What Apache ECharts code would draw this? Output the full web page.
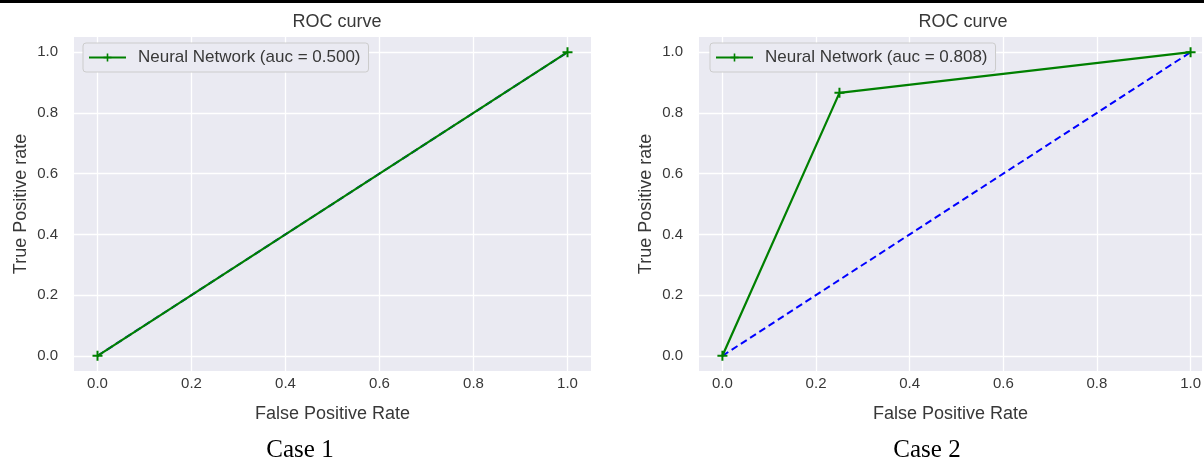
<!DOCTYPE html>
<html>
<head>
<meta charset="utf-8">
<script src="https://cdn.jsdelivr.net/npm/echarts@6/dist/echarts.min.js"></script>
<style>html,body{margin:0;padding:0;background:#fff}#c{width:1204px;height:461px}</style>
</head>
<body>
<div id="c"></div>
<script>
const tickValues = [0, 0.2, 0.4, 0.6, 0.8, 1.0];
const case1Roc = [[0, 0], [1, 1]];
const case2Roc = [[0, 0], [0.25, 0.866], [1, 1]];
const chanceLine = [[0, 0], [1, 1]];
const case1Name = 'Neural Network (auc = 0.500)';
const case2Name = 'Neural Network (auc = 0.808)';
const caseLabels = ['Case 1', 'Case 2'];

const txt = '#383838';
const font = 'Liberation Sans, Arial, sans-serif';
const plus = 'path://M4,0h2v4h4v2h-4v4h-2v-4h-4v-2h4z';

function xAx(gi, max) {
  return {
    type: 'value', gridIndex: gi, min: -0.05, max: max,
    name: 'False Positive Rate', nameLocation: 'middle', nameGap: 34,
    nameTextStyle: {color: txt, fontSize: 18, fontFamily: font},
    axisLine: {show: false},
    axisTick: {show: false, customValues: tickValues},
    axisLabel: {customValues: tickValues, color: txt, fontSize: 15, fontFamily: font, margin: 5,
      formatter: v => v.toFixed(1)},
    splitLine: {show: true, lineStyle: {color: '#ffffff', width: 1.3}}
  };
}
function yAx(gi) {
  return {
    type: 'value', gridIndex: gi, min: -0.05, max: 1.05,
    name: 'True Positive rate', nameLocation: 'middle', nameGap: 44,
    nameTextStyle: {color: txt, fontSize: 18, fontFamily: font},
    axisLine: {show: false},
    axisTick: {show: false, customValues: tickValues},
    axisLabel: {customValues: tickValues, color: txt, fontSize: 15, fontFamily: font, margin: 16,
      formatter: v => v.toFixed(1)},
    splitLine: {show: true, lineStyle: {color: '#ffffff', width: 1.3}}
  };
}
function roc(gi, name, data) {
  return {
    type: 'line', name: name, xAxisIndex: gi, yAxisIndex: gi, data: data,
    symbol: plus, symbolSize: 10, showSymbol: true, z: 3,
    lineStyle: {color: '#008000', width: 2.2}, itemStyle: {color: '#008000'},
    animation: false
  };
}
function chance(gi) {
  return {
    type: 'line', name: 'chance', xAxisIndex: gi, yAxisIndex: gi, data: chanceLine,
    symbol: 'none', z: 2,
    lineStyle: {color: '#0000ff', width: 2, type: [7, 4]},
    animation: false
  };
}
function legend(left, name) {
  return {
    left: left, top: 43, orient: 'vertical', data: [name],
    backgroundColor: '#EAEAF2', borderColor: '#cccccc', borderWidth: 1, borderRadius: 3,
    padding: [6, 8, 6, 5], itemWidth: 37, itemHeight: 10, itemGap: 0,
    textStyle: {color: txt, fontSize: 17, fontFamily: font, padding: [0, 0, 0, 7]},
    selectedMode: false
  };
}

const chart = echarts.init(document.getElementById('c'));
chart.setOption({
  animation: false,
  backgroundColor: '#ffffff',
  title: [
    {text: 'ROC curve', left: 332, top: 8, textAlign: 'center',
     textStyle: {color: txt, fontSize: 18, fontWeight: 'normal', fontFamily: font}},
    {text: 'ROC curve', left: 958, top: 8, textAlign: 'center',
     textStyle: {color: txt, fontSize: 18, fontWeight: 'normal', fontFamily: font}}
  ],
  legend: [legend(83, case1Name), legend(710, case2Name)],
  grid: [
    {left: 74, top: 37, width: 517, height: 334, show: true, backgroundColor: '#EAEAF2', borderWidth: 0},
    {left: 699, top: 37, width: 505, height: 334, show: true, backgroundColor: '#EAEAF2', borderWidth: 0}
  ],
  xAxis: [xAx(0, 1.05), xAx(1, 1.0245)],
  yAxis: [yAx(0), yAx(1)],
  series: [chance(0), roc(0, case1Name, case1Roc), chance(1), roc(1, case2Name, case2Roc)],
  graphic: [
    {type: 'rect', left: 0, top: 0, shape: {width: 1204, height: 3}, style: {fill: '#000'}},
    {type: 'text', x: 300, y: 450, style: {text: caseLabels[0], fill: '#000', font: '25px "Liberation Serif", "Times New Roman", serif', align: 'center', verticalAlign: 'middle'}},
    {type: 'text', x: 927, y: 450, style: {text: caseLabels[1], fill: '#000', font: '25px "Liberation Serif", "Times New Roman", serif', align: 'center', verticalAlign: 'middle'}}
  ]
});
</script>
</body>
</html>
